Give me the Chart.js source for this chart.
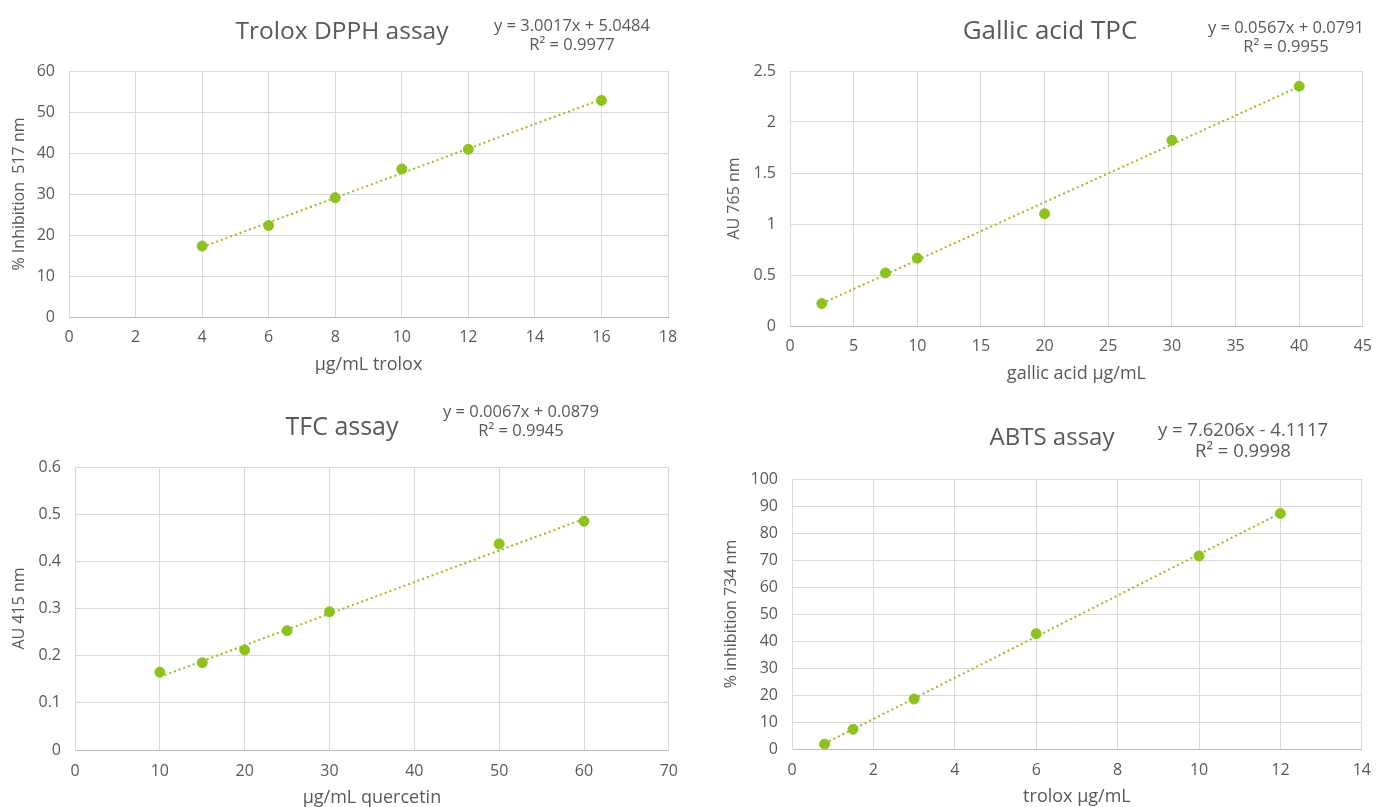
<!DOCTYPE html>
<html>
<head>
<meta charset="utf-8">
<title>Calibration curves</title>
<script src="https://cdn.jsdelivr.net/npm/chart.js@4.4.1/dist/chart.umd.min.js"></script>
<style>
  body { margin: 0; background: #fff; width: 1383px; height: 807px; overflow: hidden; position: relative; }
  canvas { position: absolute; }
</style>
</head>
<body>
<canvas id="c1" width="690" height="385" style="left:0px;top:0px"></canvas>
<canvas id="c2" width="691" height="390" style="left:692px;top:0px"></canvas>
<canvas id="c3" width="690" height="420" style="left:0px;top:395px"></canvas>
<canvas id="c4" width="691" height="415" style="left:692px;top:400px"></canvas>
<script>
// Trolox DPPH assay
var dpphX = [4, 6, 8, 10, 12, 16]
var dpphY = [17.3, 22.3, 29.1, 36.1, 40.9, 52.8]
var dpphTrendX = [4, 16]
var dpphTrendY = [17.05, 53.08]

// Gallic acid TPC
var tpcX = [2.5, 7.5, 10, 20, 30, 40]
var tpcY = [0.22, 0.52, 0.665, 1.10, 1.82, 2.35]
var tpcTrendX = [2.5, 40]
var tpcTrendY = [0.221, 2.347]

// TFC assay
var tfcX = [10, 15, 20, 25, 30, 50, 60]
var tfcY = [0.165, 0.185, 0.212, 0.253, 0.293, 0.437, 0.485]
var tfcTrendX = [10, 60]
var tfcTrendY = [0.155, 0.490]

// ABTS assay
var abtsX = [0.8, 1.5, 3, 6, 10, 12]
var abtsY = [1.8, 7.3, 18.5, 42.7, 71.5, 87.2]
var abtsTrendX = [0.8, 12]
var abtsTrendY = [1.99, 87.33]

var green = "#8DC21F"
var textColor = "#595959"
var gridColor = "#d9d9d9"
var fontName = "'Open Sans', sans-serif"

function toPoints(xs, ys){
    var pts = []
    for(var i = 0; i < xs.length; i++){
        pts.push({x: xs[i], y: ys[i]})
    }
    return pts
}

function fmt(v){
    return String(Math.round(v * 1000) / 1000)
}

// draws chart title and trendline equation
var labelsPlugin = {
    id: "labelsPlugin",
    afterDraw: function(chart){
        var o = chart.options.plugins.labelsPlugin
        var ctx = chart.ctx
        ctx.save()
        ctx.fillStyle = textColor
        ctx.textAlign = "center"
        ctx.textBaseline = "middle"
        ctx.font = o.titleSize + "px " + fontName
        ctx.fillText(o.title, o.titleX, o.titleY)
        ctx.font = o.eqSize + "px " + fontName
        ctx.fillText(o.eq[0], o.eqX, o.eqY)
        ctx.fillText(o.eq[1], o.eqX, o.eqY2)
        ctx.restore()
    }
}

function makeChart(id, cfg){
    var ctx = document.getElementById(id).getContext("2d")
    return new Chart(ctx, {
        type: "scatter",
        data: {
            datasets: [{
                label: "data",
                data: toPoints(cfg.xs, cfg.ys),
                backgroundColor: green,
                borderColor: green,
                pointRadius: 5,
                pointHoverRadius: 5,
                order: 1
            }, {
                label: "trend",
                type: "line",
                data: toPoints(cfg.tx, cfg.ty),
                borderColor: green,
                borderWidth: 2,
                borderDash: [2, 3],
                pointRadius: 0,
                fill: false,
                order: 2
            }]
        },
        options: {
            responsive: false,
            animation: false,
            layout: { padding: cfg.pad },
            plugins: {
                legend: { display: false },
                tooltip: { enabled: false },
                title: { display: false },
                labelsPlugin: cfg.labels
            },
            scales: {
                x: {
                    type: "linear",
                    min: cfg.xMin, max: cfg.xMax,
                    afterFit: function(s){ s.height = cfg.xH },
                    ticks: { stepSize: cfg.xStep, color: textColor, padding: cfg.xTickPad,
                             font: { family: fontName, size: 16 }, callback: fmt },
                    grid: { color: gridColor, drawTicks: false },
                    border: { color: "#bfbfbf", width: 1 },
                    title: { display: true, text: cfg.xTitle, color: textColor,
                             font: { family: fontName, size: 18 }, padding: { top: 0, bottom: cfg.xTitlePad } }
                },
                y: {
                    min: cfg.yMin, max: cfg.yMax,
                    afterFit: function(s){ s.width = cfg.yW },
                    ticks: { stepSize: cfg.yStep, color: textColor, padding: cfg.yTickPad,
                             font: { family: fontName, size: 16 }, callback: fmt },
                    grid: { color: gridColor, drawTicks: false },
                    border: { color: gridColor, width: 1 },
                    title: { display: true, text: cfg.yTitle, color: textColor,
                             font: { family: fontName, size: 16 }, padding: { top: cfg.yTitlePad, bottom: 0 } }
                }
            }
        },
        plugins: [labelsPlugin]
    })
}

makeChart("c1", {
    xs: dpphX, ys: dpphY, tx: dpphTrendX, ty: dpphTrendY,
    xMin: 0, xMax: 18, xStep: 2, yMin: 0, yMax: 60, yStep: 10,
    xTitle: "µg/mL trolox", yTitle: "% Inhibition  517 nm",
    pad: { left: 8, right: 22, top: 71, bottom: 6 },
    yW: 61, xH: 62, xTickPad: 11, yTickPad: 14, xTitlePad: 3, yTitlePad: 2,
    labels: { title: "Trolox DPPH assay", titleX: 342, titleY: 32, titleSize: 24.5,
              eq: ["y = 3.0017x + 5.0484", "R² = 0.9977"], eqX: 572, eqY: 26, eqY2: 45, eqSize: 16.5 }
})

makeChart("c2", {
    xs: tpcX, ys: tpcY, tx: tpcTrendX, ty: tpcTrendY,
    xMin: 0, xMax: 45, xStep: 5, yMin: 0, yMax: 2.5, yStep: 0.5,
    xTitle: "gallic acid µg/mL", yTitle: "AU 765 nm",
    pad: { left: 20, right: 13, top: 71, bottom: 4 },
    yW: 78, xH: 60, xTickPad: 11, yTickPad: 14, xTitlePad: 1, yTitlePad: 13,
    labels: { title: "Gallic acid TPC", titleX: 358, titleY: 32, titleSize: 26,
              eq: ["y = 0.0567x + 0.0791", "R² = 0.9955"], eqX: 594, eqY: 28, eqY2: 47, eqSize: 16.5 }
})

makeChart("c3", {
    xs: tfcX, ys: tfcY, tx: tfcTrendX, ty: tfcTrendY,
    xMin: 0, xMax: 70, xStep: 10, yMin: 0, yMax: 0.6, yStep: 0.1,
    xTitle: "µg/mL quercetin", yTitle: "AU 415 nm",
    pad: { left: 8, right: 19, top: 72, bottom: 0 },
    yW: 67, xH: 65, xTickPad: 12, yTickPad: 14, xTitlePad: 6, yTitlePad: 2,
    labels: { title: "TFC assay", titleX: 342, titleY: 33, titleSize: 25,
              eq: ["y = 0.0067x + 0.0879", "R² = 0.9945"], eqX: 521, eqY: 17, eqY2: 36, eqSize: 16.5 }
})

makeChart("c4", {
    xs: abtsX, ys: abtsY, tx: abtsTrendX, ty: abtsTrendY,
    xMin: 0, xMax: 14, xStep: 2, yMin: 0, yMax: 100, yStep: 10,
    xTitle: "trolox µg/mL", yTitle: "% inhibition 734 nm",
    pad: { left: 20, right: 13, top: 79, bottom: 0 },
    yW: 80, xH: 66, xTickPad: 12, yTickPad: 14, xTitlePad: 7, yTitlePad: 10,
    labels: { title: "ABTS assay", titleX: 360, titleY: 38, titleSize: 24,
              eq: ["y = 7.6206x - 4.1117", "R² = 0.9998"], eqX: 551, eqY: 31, eqY2: 52, eqSize: 18.5 }
})
</script>
</body>
</html>
